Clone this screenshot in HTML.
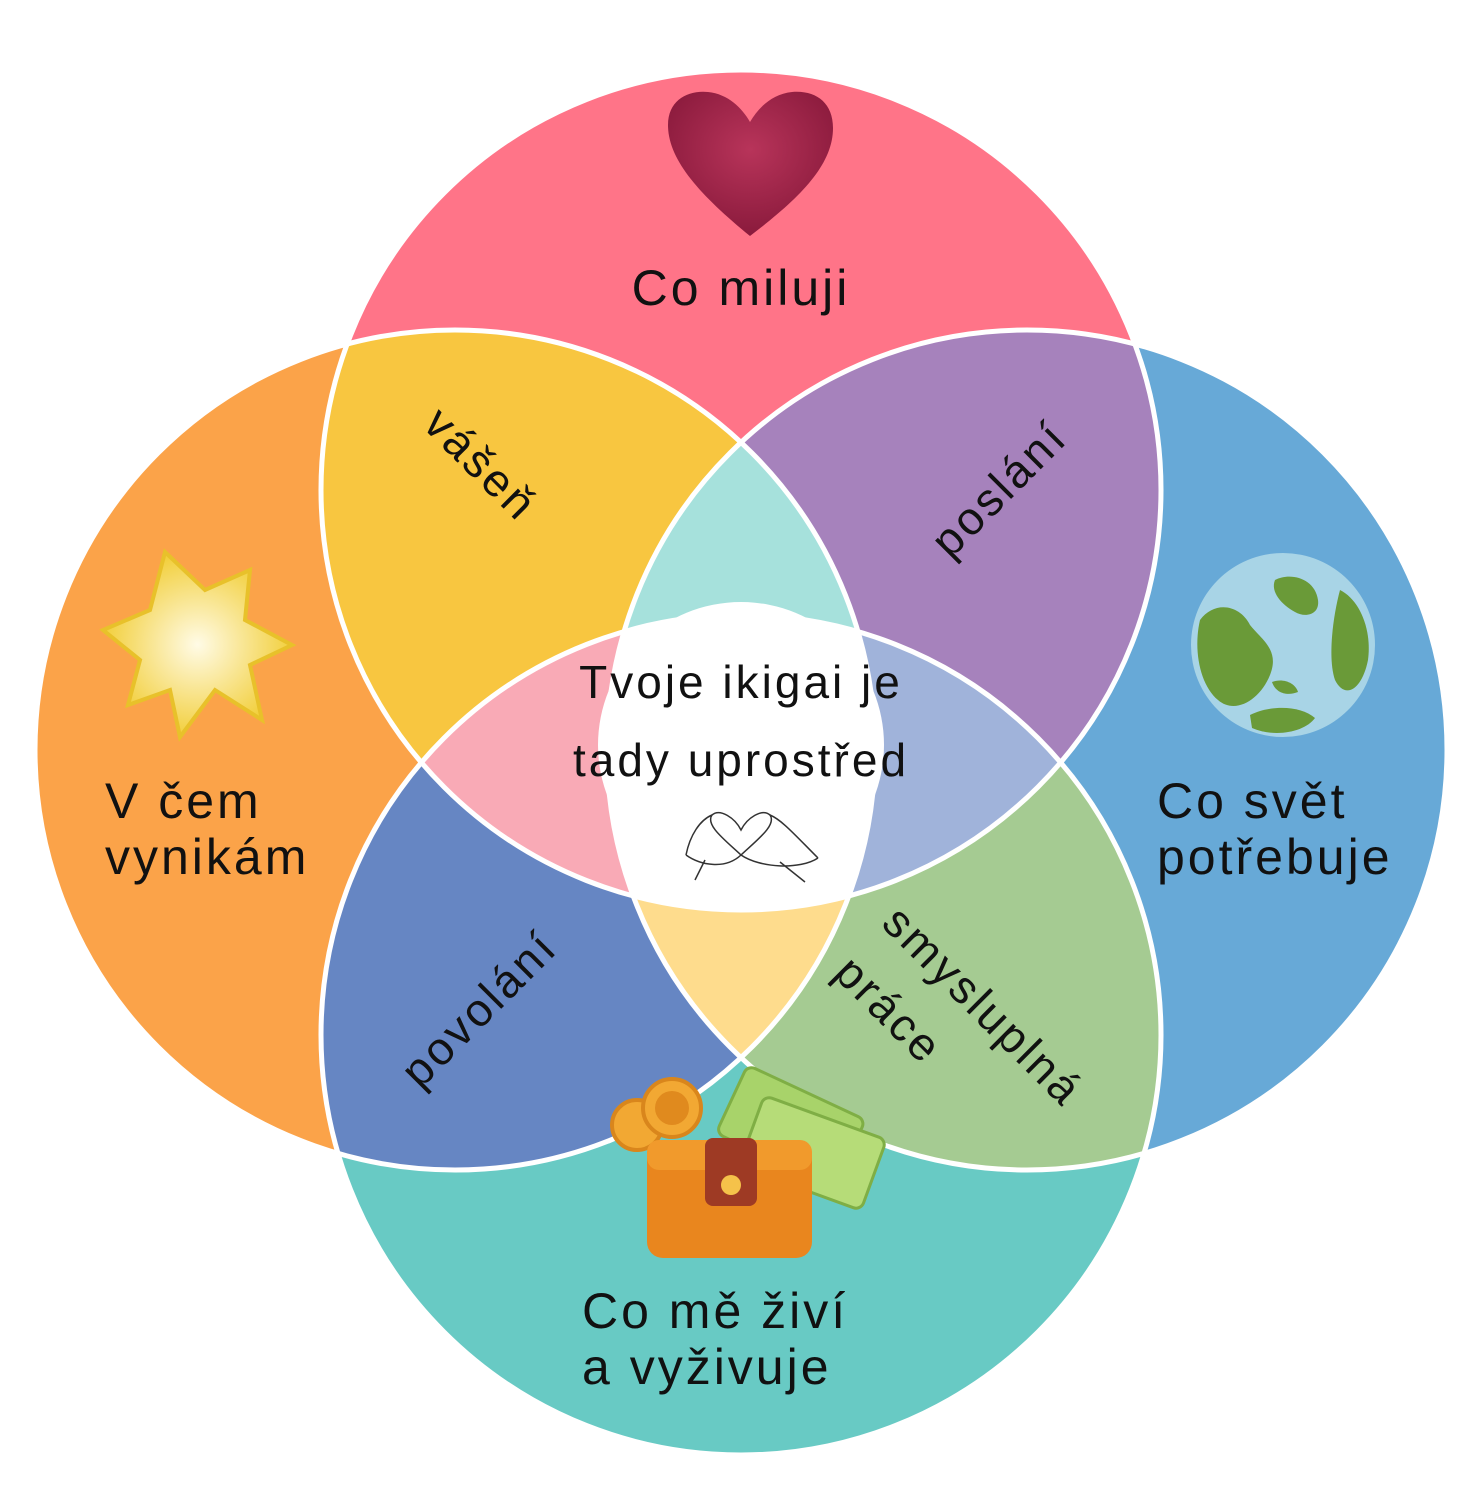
<!DOCTYPE html>
<html><head><meta charset="utf-8">
<style>
html,body{margin:0;padding:0;background:#fff;}
svg{display:block;}
text{font-family:"Liberation Sans",sans-serif;fill:#111;}
</style></head>
<body>
<svg width="1474" height="1500" viewBox="0 0 1474 1500" xmlns="http://www.w3.org/2000/svg">
<defs>
<clipPath id="cT"><circle cx="741" cy="490" r="420"/></clipPath>
<clipPath id="cL"><circle cx="455" cy="750" r="420"/></clipPath>
<clipPath id="cR"><circle cx="1027" cy="750" r="420"/></clipPath>
<clipPath id="cB"><circle cx="741" cy="1035" r="420"/></clipPath>
<radialGradient id="hg" cx="0.5" cy="0.4" r="0.6"><stop offset="0" stop-color="#b8345a"/><stop offset="1" stop-color="#8a1a3c"/></radialGradient>
<radialGradient id="sg" cx="0.5" cy="0.5" r="0.5"><stop offset="0" stop-color="#fffbe6"/><stop offset="1" stop-color="#f2cf3c"/></radialGradient>
</defs>
<circle cx="741" cy="490" r="420" fill="#FF7488"/>
<circle cx="455" cy="750" r="420" fill="#FBA349"/>
<circle cx="1027" cy="750" r="420" fill="#67A9D7"/>
<circle cx="741" cy="1035" r="420" fill="#68CAC4"/>
<circle cx="455" cy="750" r="420" fill="#F8C640" clip-path="url(#cT)"/>
<circle cx="1027" cy="750" r="420" fill="#A682BC" clip-path="url(#cT)"/>
<circle cx="455" cy="750" r="420" fill="#6686C3" clip-path="url(#cB)"/>
<circle cx="1027" cy="750" r="420" fill="#A5CB92" clip-path="url(#cB)"/>
<g clip-path="url(#cT)"><circle cx="1027" cy="750" r="420" fill="#A6E1DC" clip-path="url(#cL)"/></g>
<g clip-path="url(#cT)"><circle cx="741" cy="1035" r="420" fill="#F9AAB6" clip-path="url(#cL)"/></g>
<g clip-path="url(#cT)"><circle cx="741" cy="1035" r="420" fill="#A0B3DA" clip-path="url(#cR)"/></g>
<g clip-path="url(#cB)"><circle cx="1027" cy="750" r="420" fill="#FEDC8D" clip-path="url(#cL)"/></g>
<g clip-path="url(#cB)"><g clip-path="url(#cT)"><circle cx="1027" cy="750" r="420" fill="#fff" clip-path="url(#cL)"/></g></g>
<g fill="none" stroke="#fff" stroke-width="5">
<circle cx="741" cy="490" r="420"/>
<circle cx="455" cy="750" r="420"/>
<circle cx="1027" cy="750" r="420"/>
<circle cx="741" cy="1035" r="420"/>
</g>
<circle cx="741" cy="745" r="143" fill="#fff"/>

<path d="M750 236 C700 195 668 160 668 125 C668 100 688 90 708 92 C728 94 742 108 750 122 C758 108 772 94 792 92 C815 90 833 102 833 128 C833 165 800 198 750 236Z" fill="url(#hg)"/>
<polygon points="165,552 205,590 250,570 245,620 292,645 250,665 262,720 215,690 180,737 170,690 128,705 140,660 103,630 150,610" fill="url(#sg)" stroke="#e8c12a" stroke-width="4"/>
<circle cx="1283" cy="645" r="92" fill="#a8d4e6"/>
<path d="M1200 620 C1215 600 1240 605 1250 625 C1262 640 1280 650 1270 675 C1260 700 1235 715 1218 700 C1200 685 1193 650 1200 620Z" fill="#6a9a38"/>
<path d="M1275 580 C1290 572 1315 578 1318 600 C1320 615 1305 618 1295 612 C1282 605 1270 592 1275 580Z" fill="#6a9a38"/>
<path d="M1340 590 C1360 600 1372 630 1368 660 C1362 690 1345 700 1335 680 C1328 660 1332 620 1340 590Z" fill="#6a9a38"/>
<path d="M1250 715 C1270 705 1300 705 1315 718 C1305 732 1275 738 1252 728Z" fill="#6a9a38"/>
<path d="M1272 682 C1282 678 1295 682 1298 692 C1288 696 1276 694 1272 682Z" fill="#6a9a38"/>
<g transform="rotate(25 790 1140)"><rect x="720" y="1090" width="130" height="75" rx="8" fill="#a8d36a" stroke="#7fae45" stroke-width="3"/></g>
<g transform="rotate(20 810 1160)"><rect x="745" y="1115" width="130" height="75" rx="8" fill="#b6dc78" stroke="#7fae45" stroke-width="3"/></g>
<circle cx="637" cy="1125" r="25" fill="#f2a833" stroke="#d9861c" stroke-width="4"/>
<circle cx="672" cy="1108" r="29" fill="#f2a833" stroke="#d9861c" stroke-width="4"/>
<circle cx="672" cy="1108" r="17" fill="#e08a1e"/>
<rect x="647" y="1140" width="165" height="118" rx="16" fill="#e9861e"/>
<rect x="647" y="1140" width="165" height="30" rx="12" fill="#f19a2c"/>
<rect x="705" y="1138" width="52" height="68" rx="8" fill="#9e3a24"/>
<circle cx="731" cy="1185" r="10" fill="#f5c24a"/>

<g letter-spacing="3">
<text x="741" y="305" font-size="50" text-anchor="middle">Co miluji</text>
<text x="105" y="818" font-size="50">V čem</text>
<text x="105" y="874" font-size="50">vynikám</text>
<text x="1157" y="818" font-size="50">Co svět</text>
<text x="1157" y="874" font-size="50">potřebuje</text>
<text x="582" y="1328" font-size="50">Co mě živí</text>
<text x="582" y="1384" font-size="50">a vyživuje</text>
<text x="741" y="698" font-size="46" text-anchor="middle">Tvoje ikigai je</text>
<text x="741" y="776" font-size="46" text-anchor="middle">tady uprostřed</text>
<text font-size="46" text-anchor="middle" transform="translate(470,475) rotate(45)">vášeň</text>
<text font-size="46" text-anchor="middle" transform="translate(1010,500) rotate(-45)">poslání</text>
<text font-size="46" text-anchor="middle" transform="translate(490,1020) rotate(-45)">povolání</text>
<text font-size="46" transform="translate(880,925) rotate(45)">smysluplná</text>
<text font-size="46" transform="translate(832,975) rotate(45)">práce</text>
</g>
<g fill="none" stroke="#333" stroke-width="1.5">
<path d="M741 855 C725 840 705 825 712 815 C720 808 735 818 741 830 C747 818 762 808 770 815 C777 825 757 840 741 855Z"/>
<path d="M712 815 C700 820 690 835 686 855 M686 855 C700 865 725 870 741 855 M770 815 C782 820 795 835 818 858 M818 858 C800 870 760 868 741 855"/>
<path d="M705 860 L695 880 M780 862 L805 882"/>
</g>
</svg>
</body></html>
